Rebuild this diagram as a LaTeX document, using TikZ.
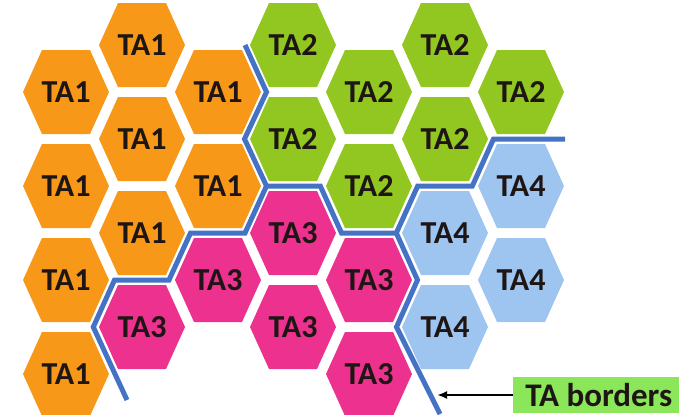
\documentclass[tikz,border=0pt]{standalone}
\usepackage{fontspec}
\setmainfont{Carlito}
\usepackage{tikz}
\usetikzlibrary{arrows.meta}

\definecolor{taone}{RGB}{248,152,24}
\definecolor{tatwo}{RGB}{146,198,32}
\definecolor{tathree}{RGB}{236,50,142}
\definecolor{tafour}{RGB}{158,196,240}
\definecolor{borderblue}{RGB}{68,114,196}
\definecolor{legendgreen}{RGB}{140,230,90}
\definecolor{labeltext}{RGB}{30,22,20}

\begin{document}
\begin{tikzpicture}[x=0.5pt, y=-0.5pt,
    celllabel/.style={text=labeltext, font=\fontsize{16}{18}\selectfont\bfseries},
    taborder/.style={borderblue, line width=2.5pt, line join=miter},
    legendbox/.style={fill=legendgreen, text=labeltext, font=\fontsize{16.5}{18}\selectfont\bfseries,
        inner xsep=6pt, minimum height=18pt, anchor=west}]
    \useasboundingbox (0,0) rectangle (679,414);
    % cells: x/y/colour/label
    \foreach \px/\py/\col/\lab [count=\n] in {
        66/92/taone/TA1, 66/186/taone/TA1, 66/280/taone/TA1, 66/374/taone/TA1,
        142/45/taone/TA1, 142/139/taone/TA1, 142/233/taone/TA1, 142/327/tathree/TA3,
        218/92/taone/TA1, 218/186/taone/TA1, 218/280/tathree/TA3,
        293/45/tatwo/TA2, 293/139/tatwo/TA2, 293/233/tathree/TA3, 293/327/tathree/TA3,
        369/92/tatwo/TA2, 369/186/tatwo/TA2, 369/280/tathree/TA3, 369/374/tathree/TA3,
        445/45/tatwo/TA2, 445/139/tatwo/TA2, 445/233/tafour/TA4, 445/327/tafour/TA4,
        521/92/tatwo/TA2, 521/186/tafour/TA4, 521/280/tafour/TA4}{
        \fill[\col] (\px,\py) +(-43,0) -- +(-24,-42) -- +(24,-42) -- +(43,0) -- +(24,42) -- +(-24,42) -- cycle;
        \node[celllabel] (cell\n) at (\px,\py) {\lab};
    }
    % borders
    \draw[taborder] (245,45) -- (266.5,92) -- (244.5,139) -- (266.5,186) -- (320.3,186) -- (341.5,233)
        -- (396.3,233) -- (417.7,186) -- (472.3,186) -- (493.5,139) -- (565,139);
    \draw[taborder] (266.5,186) -- (245,233) -- (190.5,233) -- (169,280) -- (114.5,280) -- (93.3,327) -- (127,400);
    \draw[taborder] (396.3,233) -- (417.5,280) -- (396.5,327) -- (440,414);
    % legend
    \node[legendbox] (legend) at (513,395) {TA borders};
    \fill[legendgreen] (legend.north east) rectangle (700,413);
    \coordinate (tip) at (437,395);
    \draw[-{Latex[length=5pt,width=4pt]}, line width=1pt] (legend) -- (tip);
\end{tikzpicture}
\end{document}
